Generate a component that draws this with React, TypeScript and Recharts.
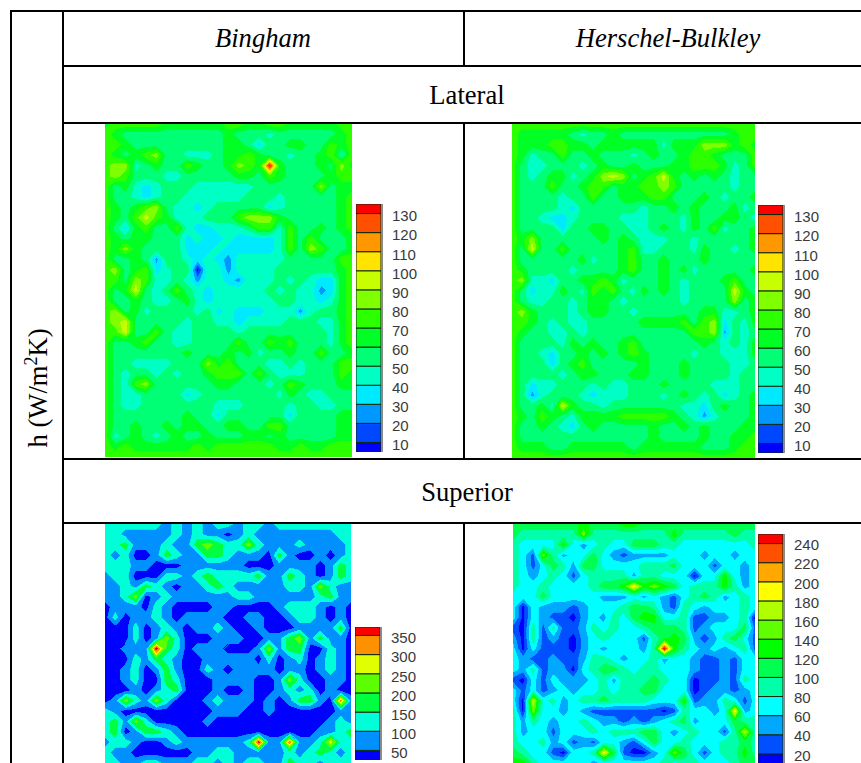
import React from 'react';
import { BarChart, Bar, XAxis, YAxis, ScatterChart, Scatter, ReferenceLine } from 'recharts';

// Contour levels (bottom to top)
const lateralEdges = [5, 10, 20, 30, 40, 50, 60, 70, 80, 90, 100, 110, 120, 130, 135];
const lateralTicks = [10, 20, 30, 40, 50, 60, 70, 80, 90, 100, 110, 120, 130];
const binghamSupEdges = [25, 50, 100, 150, 200, 250, 300, 350, 372];
const binghamSupTicks = [50, 100, 150, 200, 250, 300, 350];
const hbSupEdges = [0, 20, 40, 60, 80, 100, 120, 140, 160, 180, 200, 220, 240, 250];
const hbSupTicks = [20, 40, 60, 80, 100, 120, 140, 160, 180, 200, 220, 240];

const COLORS_14 = ['#0000ff', '#0048ff', '#0098ff', '#00eaff', '#00ffc4', '#00ff74', '#00ff24', '#2cff00', '#80ff00', '#c8ff00', '#ffe400', '#ff9800', '#ff5000', '#ff0000'];
const COLORS_8 = ['#0000ff', '#0090ff', '#00ffd8', '#00ff40', '#5cff00', '#e0ff00', '#ff9000', '#ff0000'];
const COLORS_13 = ['#0000ff', '#0050ff', '#00a8ff', '#00ffff', '#00ffa8', '#00ff50', '#00ff00', '#60ff00', '#b0ff00', '#ffff00', '#ffa800', '#ff5000', '#ff0000'];

// h, one hex digit per grid node = index of the contour band
const binghamLateral = [
  '67777 76666 66776 67766 66677',
  '76555 55555 55655 54555 55567',
  '77655 55555 55665 35566 55767',
  '76567 85544 45667 65545 56747',
  '78845 65576 55687 6d655 56586',
  '78755 54455 55566 57655 55677',
  '75643 45554 44444 55555 58566',
  '75543 45544 44445 55455 55567',
  '76567 85443 45555 53455 55567',
  '76579 76444 55578 88655 55567',
  '75367 55743 34445 77475 56567',
  '76566 55534 33433 33475 75556',
  '76865 55533 34333 33475 87556',
  '75565 25543 43244 44455 55577',
  '78567 34550 44244 44555 55567',
  '77587 44542 44324 44545 43367',
  '75695 45754 34444 45454 42367',
  '75565 44564 34444 44554 43467',
  '78564 55554 53433 34442 45567',
  '78955 55545 54434 44455 54467',
  '77955 75445 55545 55555 55467',
  '75567 55445 55575 57675 55467',
  '75555 55565 55656 45565 57556',
  '75544 44555 86755 54454 55577',
  '75455 45455 67775 75444 55576',
  '75478 55555 56655 54576 55566',
  '75445 55534 55555 55465 44555',
  '75445 55555 54445 55545 54455',
  '75555 55565 53555 55535 55566',
  '75565 56566 55665 57755 55566',
  '74565 45655 65556 65655 55566',
  '76766 66667 67777 77667 66777',
  '77777 77777 77777 77777 77777',
];
const hbLateral = [
  '77777 77777 77777 77777 77777',
  '76666 65455 65555 55555 55677',
  '76667 76656 66666 46668 88676',
  '76455 75565 55456 55677 65557',
  '75445 55456 55655 56677 76457',
  '75456 64568 98567 96565 65455',
  '75557 55677 56677 87555 55455',
  '75555 45575 56667 75556 54556',
  '75555 43555 55545 56565 55645',
  '75543 34555 54445 55465 56654',
  '75555 35566 55445 65465 74556',
  '76855 55556 56544 45545 55556',
  '75955 75555 56744 55546 55456',
  '75555 55645 56755 65556 55555',
  '76555 54555 56755 65645 55556',
  '78443 55667 64555 65455 56755',
  '75344 65476 75465 65455 55965',
  '75445 54566 54555 55455 55856',
  '78655 54566 55455 55556 64456',
  '77654 54455 55566 66757 83546',
  '76554 45455 55555 55577 82545',
  '75555 46565 56755 55556 54546',
  '75543 55656 56765 55545 54446',
  '75553 56755 55565 55655 55445',
  '75555 45665 55665 55655 55455',
  '75344 55545 44555 65555 44455',
  '75245 55434 44555 45654 53456',
  '75564 96554 55555 55443 56556',
  '76576 54666 67777 76542 45556',
  '75565 43565 55556 55656 55566',
  '75555 55555 55556 55556 55667',
  '76665 56666 66566 66665 55677',
  '77777 77777 77777 77777 77777',
];
const binghamSuperior = [
  '22222 21212 12212 21222 22222',
  '22111 11212 11012 11111 11122',
  '22311 12113 43224 21112 11112',
  '21200 13211 33211 10310 01012',
  '22211 00011 11110 00111 10132',
  '12200 02212 32222 31132 10132',
  '11213 21011 23211 11122 14211',
  '11240 12111 11122 11111 12311',
  '01110 21000 01100 00122 21010',
  '02011 21011 11001 10012 21010',
  '00020 12101 12100 10001 11130',
  '00020 14200 01110 01134 13110',
  '00111 73201 11000 14133 00210',
  '00021 32100 11111 02012 01210',
  '00120 13100 21011 11011 01210',
  '00120 03200 01111 00142 00110',
  '00010 12300 01001 00121 20100',
  '01421 42000 12111 01013 31061',
  '21000 00000 01110 01000 00011',
  '23142 00000 10000 00000 00121',
  '23013 32100 00000 00000 01123',
  '12210 01211 11112 71161 12522',
  '21100 00001 12211 11121 23212',
  '22112 21112 21212 21132 21222',
];
const hbSuperior = [
  '55555 55655 56655 55555 55555',
  '54444 44744 44444 46444 44544',
  '43333 63234 33555 44333 33334',
  '43174 23353 21222 23332 33233',
  '43135 42553 33344 45333 13323',
  '43234 31344 44244 33303 36323',
  '43343 33345 56967 65344 46423',
  '33353 33332 22323 21345 42343',
  '30322 21233 34554 21432 33343',
  '30321 10232 43566 33411 22340',
  '10414 11243 43345 55412 33351',
  '20412 10234 33314 56521 24531',
  '30311 10232 33324 c6432 32341',
  '32112 11244 32334 23321 12133',
  '32412 20345 54344 33321 12133',
  '10313 22234 24445 43301 12143',
  '31312 32334 34455 33301 22123',
  '30834 23445 44443 33612 24313',
  '40733 23211 11111 01433 23923',
  '42432 33432 21212 34523 33544',
  '42331 33343 44455 32343 31484',
  '43342 31213 32135 33433 34454',
  '54331 03349 51002 37531 34464',
  '66433 33323 33333 43443 33455',
];

const parseGrid = (rows: string[]) =>
  rows.map((row) => row.replace(/ /g, '').split('').map((ch) => parseInt(ch, 16)));

// Filled contour piece for one grid square: walk its four corners, keep those at
// or above the band and cut the edges where the band boundary crosses them
const squarePolygon = (corners: number[], band: number) => {
  const unit = [[0, 0], [1, 0], [1, 1], [0, 1]];
  const out: number[][] = [];
  corners.forEach((v, i) => {
    const j = (i + 1) % 4;
    const w = corners[j];
    const inA = v >= band;
    const inB = w >= band;
    if (inA) out.push(unit[i]);
    if (inA !== inB) {
      const t = (band - (v + 0.5)) / (w - v);
      out.push([unit[i][0] + (unit[j][0] - unit[i][0]) * t, unit[i][1] + (unit[j][1] - unit[i][1]) * t]);
    }
  });
  return out;
};

const Heatmap = ({ rows, colors, left, top, width, height, edgeLine }: any) => {
  const grid = parseGrid(rows);
  const nRows = grid.length;
  const nCols = grid[0].length;
  const cw = width / (nCols - 1);
  const ch = height / (nRows - 1);
  const nodes = grid.flatMap((row, y) =>
    row.map((level, x) => ({ x, y, level })).filter((d) => d.x < nCols - 1 && d.y < nRows - 1)
  );
  const cornersOf = (d: any) => [grid[d.y][d.x], grid[d.y][d.x + 1], grid[d.y + 1][d.x + 1], grid[d.y + 1][d.x]];
  return (
    <div style={{ position: 'absolute', left, top }}>
      <ScatterChart width={width} height={height} margin={{ top: 0, right: 0, bottom: 0, left: 0 }}>
        <XAxis type="number" dataKey="x" domain={[0, nCols - 1]} hide />
        <YAxis type="number" dataKey="y" domain={[0, nRows - 1]} reversed hide />
        {colors.map((color: string, band: number) => (
          <Scatter
            key={color}
            data={nodes.filter((d) => {
              const c = cornersOf(d);
              return Math.max(...c) >= band && Math.min(...c) <= band;
            })}
            isAnimationActive={false}
            shape={({ cx, cy, payload }: any) => {
              const pts = squarePolygon(cornersOf(payload), band);
              return (
                <polygon
                  points={pts.map(([u, v]) => `${cx + u * cw},${cy + v * ch}`).join(' ')}
                  fill={color}
                  stroke={color}
                  strokeWidth={0.8}
                  shapeRendering="crispEdges"
                />
              );
            }}
          />
        ))}
        {edgeLine && <ReferenceLine x={0} stroke={edgeLine} strokeWidth={3} />}
      </ScatterChart>
    </div>
  );
};

const ColorBar = ({ edges, ticks, colors, left, top, height, tickDy = 2.5 }: any) => {
  const row: any = { base: edges[0] };
  colors.forEach((_: string, i: number) => {
    row[`b${i}`] = edges[i + 1] - edges[i];
  });
  return (
    <div style={{ position: 'absolute', left, top }}>
      <BarChart
        width={75}
        height={height + 12}
        data={[row]}
        barCategoryGap={0}
        margin={{ top: 0, right: 0, bottom: 12, left: 0 }}
      >
        <XAxis dataKey="base" hide />
        <YAxis
          orientation="right"
          width={50}
          domain={[edges[0], edges[edges.length - 1]]}
          allowDataOverflow
          ticks={ticks}
          interval={0}
          axisLine={false}
          tickLine={false}
          tickSize={0}
          tickMargin={11}
          tick={{ fontSize: 15, fill: '#3a3a3a', fontFamily: '"Liberation Sans"', dy: tickDy }}
        />
        <Bar dataKey="base" stackId="s" fill="none" isAnimationActive={false} />
        {colors.map((c: string, i: number) => (
          <Bar key={c} dataKey={`b${i}`} stackId="s" fill={c} stroke="#0a2a0a" strokeWidth={1} isAnimationActive={false} />
        ))}
      </BarChart>
      <div style={{ position: 'absolute', left: 25, top: 0, width: 1.5, height, background: '#8a8a8a' }} />
    </div>
  );
};

const Line = ({ x, y, w, h }: any) => (
  <div style={{ position: 'absolute', left: x, top: y, width: w, height: h, background: '#000' }} />
);

const Label = ({ x, y, italic, children }: any) => (
  <div
    style={{
      position: 'absolute',
      left: x,
      top: y,
      transform: 'translate(-50%, -50%)',
      fontFamily: '"Liberation Serif"',
      fontSize: 26.6,
      fontStyle: italic ? 'italic' : 'normal',
      color: '#000',
      whiteSpace: 'nowrap',
    }}
  >
    {children}
  </div>
);

export default function App() {
  return (
    <div style={{ position: 'fixed', left: 0, top: 0, width: 861, height: 763, overflow: 'hidden', background: '#fff' }}>
      <Heatmap rows={binghamLateral} colors={COLORS_14} left={105} top={124} width={247} height={333} edgeLine="#0000ff" />
      <Heatmap rows={hbLateral} colors={COLORS_14} left={512} top={124} width={243} height={334} />
      <Heatmap rows={binghamSuperior} colors={COLORS_8} left={105} top={524} width={246} height={239} />
      <Heatmap rows={hbSuperior} colors={COLORS_13} left={513} top={524} width={242} height={239} />

      <ColorBar edges={lateralEdges} ticks={lateralTicks} colors={COLORS_14} left={356} top={204} height={248} />
      <ColorBar edges={lateralEdges} ticks={lateralTicks} colors={COLORS_14} left={758} top={205} height={248} />
      <ColorBar edges={binghamSupEdges} ticks={binghamSupTicks} colors={COLORS_8} left={355} top={627} height={133} />
      <ColorBar edges={hbSupEdges} ticks={hbSupTicks} colors={COLORS_13} left={758} top={534} height={239} tickDy={1.4} />

      <Line x={10} y={10} w={851} h={2} />
      <Line x={62} y={65} w={799} h={2} />
      <Line x={62} y={122} w={799} h={2} />
      <Line x={62} y={458} w={799} h={2} />
      <Line x={62} y={522} w={799} h={2} />
      <Line x={10} y={10} w={2} h={753} />
      <Line x={62} y={10} w={2} h={753} />
      <Line x={463} y={10} w={2} h={56} />
      <Line x={463} y={122} w={2} h={337} />
      <Line x={463} y={522} w={2} h={241} />

      <Label x={263} y={38} italic>Bingham</Label>
      <Label x={668} y={38} italic>Herschel-Bulkley</Label>
      <Label x={467} y={95}>Lateral</Label>
      <Label x={467} y={492}>Superior</Label>
      <div
        style={{
          position: 'absolute',
          left: 38,
          top: 388,
          transform: 'translate(-50%, -50%) rotate(-90deg)',
          fontFamily: '"Liberation Serif"',
          fontSize: 26.6,
          whiteSpace: 'nowrap',
        }}
      >
        h (W/m<sup style={{ fontSize: 18, lineHeight: 0 }}>2</sup>K)
      </div>
    </div>
  );
}
